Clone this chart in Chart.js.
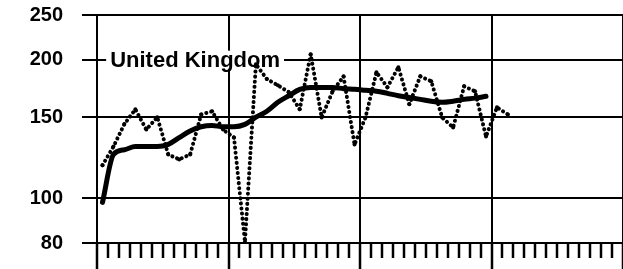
<!DOCTYPE html>
<html>
<head>
<meta charset="utf-8">
<script src="https://cdn.jsdelivr.net/npm/chart.js@4.4.1/dist/chart.umd.min.js"></script>
<style>
  html, body { margin: 0; padding: 0; background: #fff; }
  #wrap { width: 623px; height: 269px; }
</style>
</head>
<body>
<div id="wrap"><canvas id="c" width="623" height="269"></canvas></div>
<script>
// ---- data ----
const monthCount = 48;                       // 4 years x 12 months on the x axis
const seriesLabel = 'United Kingdom';
// monthly values (dotted series)
const ukMonthly = [118, 129.5, 145, 156, 141, 150, 124.5, 121.5, 124.5, 152, 154.5, 141,
                   135.5, 80.5, 195.5, 181.5, 176, 170, 156, 205.6, 149.8, 170.7, 184, 130.8,
                   149.8, 187.8, 174.2, 192.6, 160, 184, 179.5, 149.8, 142.5, 175, 170.7, 136.2,
                   157.6, 152];
// trend (thick smooth series)
const ukTrend = [98, 124.5, 127.5, 129.5, 129.5, 129.5, 131, 135.5, 140, 143, 144, 143,
                 143, 144.7, 150, 154.5, 161.6, 167, 172.4, 174, 174, 174, 173, 172.4,
                 171.6, 170.8, 169, 167, 165.5, 164, 162.5, 161.6, 162.5, 164, 165, 166.5];
const yTickValues = [80, 100, 150, 200, 250];
const yMin = 80, yMax = 250;

const toPoints = arr => arr.map((v, i) => ({ x: i + 0.5, y: v }));

const labelPlugin = {
  id: 'seriesLabel',
  beforeDatasetsDraw(chart) {
    const { ctx, scales } = chart;
    const x = scales.x.getPixelForValue(1.2);
    const y = scales.y.getPixelForValue(200);
    ctx.save();
    ctx.font = "bold 22px 'Liberation Sans', Arial, sans-serif";
    ctx.textBaseline = 'middle';
    ctx.textAlign = 'left';
    const w = ctx.measureText(seriesLabel).width;
    ctx.fillStyle = '#fff';
    ctx.fillRect(x - 4, y - 9, w + 8, 18);
    ctx.fillStyle = '#000';
    ctx.fillText(seriesLabel, x, y + 1);
    ctx.restore();
  }
};

new Chart(document.getElementById('c'), {
  type: 'line',
  data: {
    datasets: [
      {
        data: toPoints(ukMonthly),
        borderColor: '#000',
        borderWidth: 4,
        borderDash: [0.1, 5],
        borderCapStyle: 'round',
        borderJoinStyle: 'round',
        pointRadius: 2,
        pointBackgroundColor: '#000',
        pointBorderWidth: 0,
        tension: 0,
        fill: false
      },
      {
        data: toPoints(ukTrend),
        borderColor: '#000',
        borderWidth: 5,
        borderCapStyle: 'round',
        borderJoinStyle: 'round',
        pointRadius: 0,
        cubicInterpolationMode: 'monotone',
        fill: false
      }
    ]
  },
  options: {
    responsive: false,
    animation: false,
    devicePixelRatio: 1,
    layout: { autoPadding: false, padding: { top: 15, right: 0, left: 0, bottom: 0 } },
    plugins: { legend: { display: false }, tooltip: { enabled: false } },
    scales: {
      x: {
        type: 'linear',
        min: 0,
        max: monthCount,
        afterFit: s => { s.height = 26; },
        ticks: { stepSize: 1, maxTicksLimit: 100, display: false, padding: 0 },
        grid: {
          color: c => (c.tick && c.tick.value % 12 === 0) ? '#000' : 'rgba(0,0,0,0)',
          lineWidth: 2,
          tickColor: '#000',
          tickWidth: 2.5,
          tickLength: 26,
          tickBorderDash: c => (c.tick && c.tick.value % 12 === 0) ? [] : [14, 60]
        },
        border: { display: true, color: '#000', width: 2 }
      },
      y: {
        type: 'logarithmic',
        min: yMin,
        max: yMax,
        afterFit: s => { s.width = 97; },
        afterBuildTicks: s => { s.ticks = yTickValues.map(v => ({ value: v })); },
        ticks: {
          color: '#000',
          padding: 0,
          font: { family: "'Liberation Sans', Arial, sans-serif", size: 20, weight: 'bold' },
          callback: v => String(v)
        },
        grid: {
          color: '#000', lineWidth: 2, tickLength: 34, tickColor: '#000',
          tickBorderDash: [0, 19, 15, 100]
        },
        border: { display: true, color: '#000', width: 2 }
      }
    }
  },
  plugins: [labelPlugin]
});
</script>
</body>
</html>
